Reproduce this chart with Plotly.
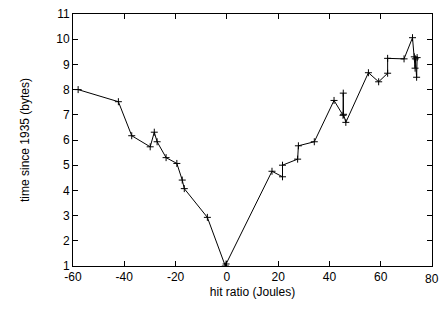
import plotly.graph_objects as go

x_vals = [-58, -42.3, -37.1, -29.9, -28.3, -27.2, -23.7, -19.5, -17.4, -16.6, -7.6, -0.6, -0.3,
          17.6, 21.7, 21.7, 27.6, 27.9, 34.1, 41.8, 45.3, 45.4, 45.5, 46.4,
          55.2, 59.2, 62.7, 62.7, 69.1, 72.4, 73.1, 73.4, 73.5, 74.0, 74.2]
y_vals = [8.0, 7.52, 6.17, 5.73, 6.31, 5.93, 5.30, 5.07, 4.41, 4.07, 2.93, 1.0, 1.08,
          4.76, 4.54, 5.0, 5.24, 5.77, 5.93, 7.57, 6.98, 7.86, 7.02, 6.70,
          8.67, 8.31, 8.65, 9.24, 9.22, 10.06, 9.3, 8.85, 9.22, 8.49, 9.27]

x_ticks = [-60, -40, -20, 0, 20, 40, 60, 80]
x_tick_labels = ["-60", "-40", "-20", "0", "20", "40", "60", "80"]
y_ticks = [1, 2, 3, 4, 5, 6, 7, 8, 9, 10, 11]

fig = go.Figure()
fig.add_trace(go.Scatter(
    x=x_vals, y=y_vals, mode="lines+markers",
    line=dict(color="black", width=1),
    marker=dict(symbol="cross-thin", size=5, line=dict(color="black", width=1)),
    showlegend=False,
))

axis_common = dict(
    showline=True, linecolor="black", linewidth=1, mirror="allticks",
    ticks="inside", ticklen=5, tickcolor="black", tickwidth=1,
    showgrid=False, zeroline=False, ticklabeloverflow="allow",
    tickfont=dict(family="Liberation Sans", size=12, color="black"),
)

# The last x label sits at the right end of the x-axis domain; Plotly drops it
# as a tick label, so it is placed at the domain's end (x domain = 1).
end_label = dict(
    x=1, y=0, xref="x domain", yref="y domain", text=x_tick_labels[-1],
    showarrow=False, xanchor="center", yanchor="top", yshift=-4,
    font=dict(family="Liberation Sans", size=12, color="black"),
)

fig.update_layout(
    width=444, height=320,
    margin=dict(l=73, r=12, t=14, b=54),
    paper_bgcolor="white", plot_bgcolor="white",
    font=dict(family="Liberation Sans", size=12, color="black"),
    xaxis=dict(range=[-60, 80], tickmode="array", tickvals=x_ticks[:-1],
               ticktext=x_tick_labels[:-1], automargin=False,
               title=dict(text="hit ratio (Joules)", standoff=4,
                          font=dict(family="Liberation Sans", size=12)),
               **axis_common),
    yaxis=dict(range=[1, 11], tickmode="array", tickvals=y_ticks, automargin=False,
               title=dict(text="time since 1935 (bytes)", standoff=24,
                          font=dict(family="Liberation Sans", size=12)),
               **axis_common),
    annotations=[end_label],
)

# keep the tick mark at 80 on the bottom/top frame via a shape-free approach:
# the mirrored axis line already closes the frame at x = 80.

fig.write_html("out.html", config={"displayModeBar": False},
               post_script="document.body.style.margin='0'; document.body.style.overflow='hidden';")
